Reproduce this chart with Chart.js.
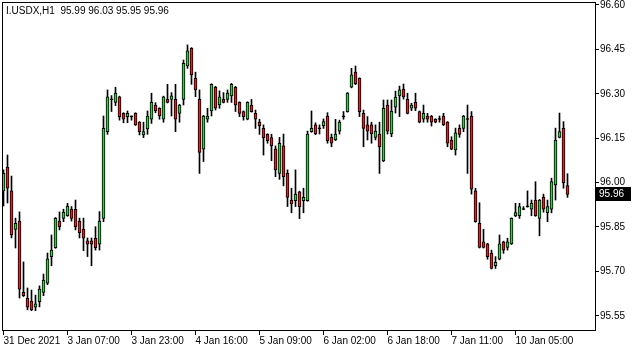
<!DOCTYPE html>
<html>
<head>
<meta charset="utf-8">
<script src="https://cdn.jsdelivr.net/npm/chart.js@4.4.1/dist/chart.umd.min.js"></script>
<style>
  html, body { margin: 0; padding: 0; background: #fff; }
  #wrap { width: 635px; height: 352px; position: relative; }
</style>
</head>
<body>
<div id="wrap"><canvas id="c"></canvas></div>
<script>
// I.USDX H1 candles (O/H/L/C per bar)
const OPEN = [
  95.972, 96.052, 95.972, 95.842, 95.870, 95.629, 95.609, 95.600, 95.579, 95.598,
  95.629, 95.660, 95.750, 95.780, 95.870, 95.879, 95.888, 95.910, 95.910, 95.870,
  95.842, 95.803, 95.803, 95.812, 95.792, 95.879, 96.172, 96.281, 96.271, 96.290,
  96.234, 96.223, 96.224, 96.234, 96.204, 96.161, 96.181, 96.214, 96.262, 96.251,
  96.214, 96.281, 96.281, 96.281, 96.234, 96.281, 96.394, 96.454, 96.352, 96.281,
  96.113, 96.214, 96.242, 96.322, 96.262, 96.281, 96.281, 96.293, 96.322, 96.271,
  96.240, 96.214, 96.262, 96.234, 96.204, 96.183, 96.163, 96.152, 96.113, 96.031,
  96.124, 96.031, 95.941, 95.939, 95.969, 95.939, 95.939, 96.172, 96.195, 96.184,
  96.192, 96.225, 96.153, 96.144, 96.174, 96.222, 96.240, 96.322, 96.373, 96.352,
  96.234, 96.195, 96.195, 96.153, 96.164, 96.073, 96.262, 96.164, 96.255, 96.293,
  96.316, 96.281, 96.251, 96.271, 96.240, 96.214, 96.225, 96.225, 96.214, 96.215,
  96.225, 96.204, 96.144, 96.110, 96.183, 96.183, 96.215, 96.225, 95.972, 95.862,
  95.800, 95.793, 95.761, 95.719, 95.741, 95.800, 95.781, 95.793, 95.887, 95.888,
  95.911, 95.918, 95.910, 95.941, 95.879, 95.950, 95.898, 95.910, 95.992, 96.153,
  96.183, 95.990
];
const HIGH = [
  96.043, 96.093, 96.022, 95.880, 95.901, 95.732, 95.644, 95.637, 95.620, 95.651,
  95.691, 95.762, 95.823, 95.882, 95.901, 95.910, 95.930, 95.919, 95.941, 95.880,
  95.880, 95.813, 95.813, 95.851, 95.902, 96.225, 96.313, 96.294, 96.322, 96.292,
  96.236, 96.242, 96.225, 96.236, 96.206, 96.204, 96.242, 96.302, 96.270, 96.253,
  96.292, 96.332, 96.304, 96.332, 96.264, 96.414, 96.465, 96.456, 96.373, 96.313,
  96.227, 96.251, 96.334, 96.325, 96.310, 96.304, 96.313, 96.335, 96.325, 96.273,
  96.242, 96.273, 96.281, 96.245, 96.214, 96.195, 96.165, 96.163, 96.124, 96.153,
  96.164, 96.043, 95.981, 96.043, 95.971, 95.981, 96.174, 96.242, 96.202, 96.195,
  96.215, 96.236, 96.164, 96.214, 96.211, 96.240, 96.304, 96.386, 96.394, 96.354,
  96.245, 96.223, 96.204, 96.195, 96.204, 96.279, 96.279, 96.279, 96.309, 96.326,
  96.333, 96.302, 96.268, 96.302, 96.242, 96.262, 96.234, 96.227, 96.216, 96.225,
  96.234, 96.206, 96.155, 96.184, 96.195, 96.227, 96.262, 96.240, 95.981, 95.932,
  95.842, 95.795, 95.772, 95.750, 95.823, 95.802, 95.812, 95.881, 95.930, 95.930,
  95.919, 95.972, 95.941, 96.003, 95.943, 95.961, 95.941, 96.015, 96.184, 96.235,
  96.206, 96.030
];
const LOW = [
  95.921, 95.931, 95.813, 95.779, 95.610, 95.615, 95.570, 95.567, 95.567, 95.580,
  95.618, 95.655, 95.719, 95.778, 95.840, 95.868, 95.886, 95.870, 95.840, 95.813,
  95.770, 95.750, 95.719, 95.772, 95.772, 95.868, 96.163, 96.240, 96.260, 96.211,
  96.202, 96.202, 96.211, 96.193, 96.161, 96.152, 96.163, 96.200, 96.236, 96.214,
  96.204, 96.269, 96.225, 96.172, 96.204, 96.262, 96.386, 96.332, 96.290, 96.031,
  96.071, 96.204, 96.225, 96.245, 96.251, 96.269, 96.271, 96.271, 96.240, 96.223,
  96.211, 96.212, 96.238, 96.183, 96.163, 96.093, 96.133, 96.074, 96.020, 96.011,
  95.989, 95.919, 95.898, 95.919, 95.878, 95.898, 95.937, 96.170, 96.162, 96.164,
  96.183, 96.133, 96.121, 96.142, 96.164, 96.214, 96.238, 96.320, 96.331, 96.223,
  96.121, 96.144, 96.133, 96.144, 96.031, 96.071, 96.164, 96.155, 96.235, 96.223,
  96.282, 96.232, 96.243, 96.243, 96.202, 96.204, 96.204, 96.191, 96.202, 96.204,
  96.193, 96.121, 96.111, 96.093, 96.153, 96.172, 96.031, 95.961, 95.866, 95.779,
  95.779, 95.741, 95.708, 95.710, 95.739, 95.761, 95.772, 95.791, 95.885, 95.879,
  95.908, 95.917, 95.888, 95.886, 95.820, 95.900, 95.868, 95.898, 95.941, 96.151,
  95.981, 95.950
];
const CLOSE = [
  96.031, 95.981, 95.823, 95.862, 95.640, 95.618, 95.579, 95.570, 95.590, 95.640,
  95.671, 95.742, 95.772, 95.879, 95.851, 95.900, 95.921, 95.879, 95.851, 95.831,
  95.812, 95.792, 95.792, 95.780, 95.870, 96.183, 96.290, 96.280, 96.302, 96.223,
  96.214, 96.234, 96.222, 96.195, 96.172, 96.172, 96.225, 96.271, 96.242, 96.225,
  96.290, 96.271, 96.293, 96.214, 96.262, 96.403, 96.445, 96.364, 96.313, 96.102,
  96.225, 96.225, 96.332, 96.251, 96.290, 96.271, 96.302, 96.332, 96.262, 96.234,
  96.223, 96.271, 96.240, 96.214, 96.192, 96.152, 96.142, 96.124, 96.043, 96.133,
  96.020, 95.950, 95.928, 95.961, 95.919, 95.950, 96.164, 96.183, 96.164, 96.182,
  96.206, 96.142, 96.133, 96.164, 96.204, 96.224, 96.302, 96.364, 96.333, 96.240,
  96.183, 96.174, 96.164, 96.174, 96.121, 96.251, 96.174, 96.242, 96.289, 96.313,
  96.289, 96.234, 96.262, 96.251, 96.204, 96.234, 96.214, 96.204, 96.204, 96.213,
  96.195, 96.133, 96.113, 96.168, 96.163, 96.225, 96.213, 95.978, 95.868, 95.781,
  95.781, 95.750, 95.710, 95.731, 95.793, 95.772, 95.800, 95.879, 95.899, 95.919,
  95.909, 95.920, 95.930, 95.888, 95.941, 95.910, 95.919, 96.003, 96.144, 96.172,
  96.000, 95.960
];

const TIME_TICK_BARS = [0, 16, 32, 48, 64, 80, 96, 112, 128];
const TIME_TICK_LABELS = [
  '31 Dec 2021', '3 Jan 07:00', '3 Jan 23:00', '4 Jan 16:00', '5 Jan 09:00',
  '6 Jan 02:00', '6 Jan 18:00', '7 Jan 11:00', '10 Jan 05:00'
];
const PRICE_TICKS = [95.55, 95.70, 95.85, 96.00, 96.15, 96.30, 96.45, 96.60];
const SYMBOL_TITLE = 'I.USDX,H1';

const BULL = '#2fd23a';
const BEAR = '#f01818';

Chart.defaults.font.family = '"Liberation Sans", Arial, sans-serif';
Chart.defaults.font.size = 10;
Chart.defaults.color = '#000';

const idx = OPEN.map((_, i) => i);
const wickData = idx.map(i => ({ x: i, y: [LOW[i], HIGH[i]] }));
const bodyData = idx.map(i => ({ x: i, y: [OPEN[i], CLOSE[i]] }));
const bodyColors = idx.map(i => {
  if (Math.abs(CLOSE[i] - OPEN[i]) < 0.0025) return '#000';
  return CLOSE[i] > OPEN[i] ? BULL : BEAR;
});

const last = OPEN.length - 1;
const fmt = v => v.toFixed(2);

// frame, header text and the current-price box (MT4 look)
const terminal = {
  id: 'terminal',
  afterDraw(chart) {
    const { ctx, chartArea: a, scales } = chart;
    ctx.save();
    ctx.strokeStyle = '#000';
    ctx.lineWidth = 1;
    ctx.strokeRect(a.left + 0.5, a.top + 0.5, a.right - a.left - 1, a.bottom - a.top - 1);

    ctx.font = '10px "Liberation Sans", Arial, sans-serif';
    ctx.fillStyle = '#000';
    ctx.textBaseline = 'middle';
    ctx.textAlign = 'left';
    const head = SYMBOL_TITLE + '  ' + [OPEN[last], HIGH[last], LOW[last], CLOSE[last]].map(fmt).join(' ');
    ctx.fillText(head, 6, 11);

    const y = Math.round(scales.y.getPixelForValue(CLOSE[last]));
    ctx.fillStyle = '#000';
    ctx.fillRect(a.right, y - 7, 35, 14);
    ctx.fillStyle = '#fff';
    ctx.fillText(fmt(CLOSE[last]), a.right + 3, y + 0.5);
    ctx.restore();
  }
};

new Chart(document.getElementById('c'), {
  type: 'bar',
  data: {
    datasets: [
      {
        data: bodyData,
        backgroundColor: bodyColors,
        borderColor: '#000',
        borderWidth: 1,
        borderSkipped: false,
        barThickness: 3,
        minBarLength: 1,
        grouped: false,
        order: 0,
      },
      {
        data: wickData,
        backgroundColor: '#000',
        borderWidth: 0,
        barThickness: 1,
        minBarLength: 1,
        grouped: false,
        order: 1,
      }
    ]
  },
  options: {
    responsive: true,
    maintainAspectRatio: false,
    animation: false,
    layout: { padding: { left: 2, top: 2, right: 0, bottom: 0 } },
    plugins: { legend: { display: false }, tooltip: { enabled: false } },
    scales: {
      x: {
        type: 'linear',
        position: 'bottom',
        offset: false,
        min: -0.375,
        max: 148.125,
        afterBuildTicks: s => { s.ticks = TIME_TICK_BARS.map(v => ({ value: v })); },
        afterFit: s => { s.height = 21; s.paddingLeft = 0; s.paddingRight = 0; },
        ticks: {
          autoSkip: false,
          maxRotation: 0,
          minRotation: 0,
          align: 'start',
          padding: 0,
          color: '#000',
          callback: (v, i) => TIME_TICK_LABELS[i],
        },
        grid: { display: true, offset: false, drawOnChartArea: false, drawTicks: true, tickLength: 4, color: '#000' },
        border: { display: false },
      },
      y: {
        type: 'linear',
        position: 'right',
        min: 95.4986,
        max: 96.6101,
        afterBuildTicks: s => { s.ticks = PRICE_TICKS.map(v => ({ value: v })); },
        afterFit: s => { s.width = 39; s.paddingTop = 0; s.paddingBottom = 0; },
        ticks: { padding: 1, color: '#000', callback: v => fmt(v) },
        grid: { display: true, drawOnChartArea: false, drawTicks: true, tickLength: 3, color: '#000' },
        border: { display: false },
      }
    }
  },
  plugins: [terminal]
});
</script>
</body>
</html>
